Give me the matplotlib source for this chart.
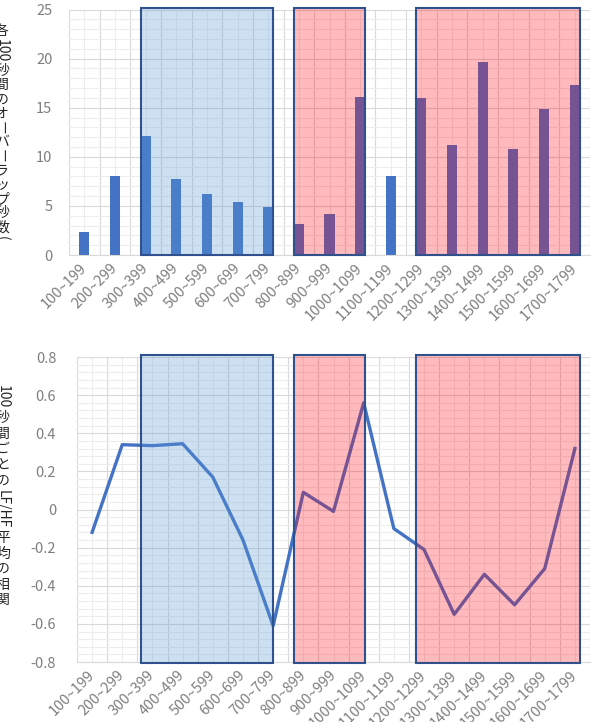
import matplotlib.pyplot as plt
import numpy as np
from matplotlib.patches import Rectangle
from matplotlib.transforms import blended_transform_factory

plt.rcParams['font.family'] = ['Noto Sans CJK JP', 'DejaVu Sans']

# データ
categories = ['100~199', '200~299', '300~399', '400~499', '500~599', '600~699',
              '700~799', '800~899', '900~999', '1000~1099', '1100~1199', '1200~1299',
              '1300~1399', '1400~1499', '1500~1599', '1600~1699', '1700~1799']
overlap_sec = [2.3, 8.0, 12.1, 7.7, 6.2, 5.4, 4.9, 3.2, 4.2, 16.1,
               8.0, 16.0, 11.2, 19.7, 10.8, 14.9, 17.3]
corr = [-0.12, 0.34, 0.335, 0.345, 0.17, -0.16, -0.61, 0.09, -0.01, 0.56,
        -0.10, -0.21, -0.55, -0.34, -0.50, -0.31, 0.32]
blue_spans = [(2, 6)]          # カテゴリ番号 (開始, 終了)
red_spans = [(7, 9), (11, 16)]

W, H = 597, 722
fig = plt.figure(figsize=(W / 100, H / 100), dpi=100)
ax1 = fig.add_axes([69 / W, 1 - 255 / H, 521 / W, 245.5 / H])
ax2 = fig.add_axes([77 / W, 1 - 662 / H, 513 / W, 305 / H])

x = np.arange(len(categories))
bar_w = 0.33
BLUE = '#4472C4'
EDGE = '#2F528F'
TICK_C = '#7F7F7F'

ax1.bar(x, overlap_sec, width=bar_w, color=BLUE, zorder=2)
ax2.plot(x, corr, color=BLUE, lw=2.4, zorder=2)


def style(ax, yticks, yminor, labels, pad_y):
    ax.set_xlim(-0.5, len(categories) - 0.5)
    ax.set_ylim(yticks[0], yticks[-1])
    ax.set_xticks(x)
    ax.set_xticks(np.arange(-0.5, len(categories)), minor=True)
    ax.set_xticklabels(categories, rotation=45, ha='right', va='center',
                       rotation_mode='anchor', fontsize=10.5, color=TICK_C)
    ax.set_yticks(yticks)
    ax.set_yticks(yminor, minor=True)
    ax.set_yticklabels(labels, fontsize=10.5, color=TICK_C)
    ax.tick_params(which='both', length=0)
    ax.tick_params(axis='x', pad=8)
    ax.tick_params(axis='y', pad=pad_y)
    ax.xaxis.grid(True, which='major', color='#EDEDED', lw=0.8)
    ax.xaxis.grid(True, which='minor', color='#D9D9D9', lw=0.8)
    ax.yaxis.grid(True, which='major', color='#D9D9D9', lw=0.8)
    ax.yaxis.grid(True, which='minor', color='#EDEDED', lw=0.8)
    ax.set_axisbelow(True)
    for s in ['top', 'right', 'left']:
        ax.spines[s].set_visible(False)
    ax.spines['bottom'].set_color('#D9D9D9')


yt1 = np.arange(0, 26, 5)
style(ax1, yt1, np.arange(0, 26, 1), [str(v) for v in yt1], 12)
yt2 = np.round(np.linspace(-0.8, 0.8, 9), 1)
style(ax2, yt2, np.round(np.linspace(-0.8, 0.8, 41), 2),
      ['0' if v == 0 else f'{v:g}' for v in yt2], 15)

# 強調枠 (上下とも上段のカテゴリ位置に合わせる)
blue_fill = (0.357, 0.608, 0.835, 0.30)
red_fill = (1.0, 0.0, 0.05, 0.27)
for ax, y0, y1 in [(ax1, 0.0, 1.008), (ax2, -0.003, 1.005)]:
    tr = blended_transform_factory(ax1.transData, ax.transAxes)
    for spans, fc in [(blue_spans, blue_fill), (red_spans, red_fill)]:
        for a, b in spans:
            ax.add_patch(Rectangle((a - bar_w / 2, y0), b - a + bar_w, y1 - y0,
                                   transform=tr, facecolor=fc, edgecolor=EDGE,
                                   lw=1.5, zorder=4, clip_on=False))


# 縦書きのラベル
def vlabel(x_px, y_px, tokens, size=10, step=1.0):
    em = size * 100 / 72
    y = y_px
    for tok in tokens:
        if tok.isascii():
            h = len(tok) * em * 0.58
            fig.text(x_px / W, 1 - (y + h / 2) / H, tok, rotation=-90,
                     ha='center', va='center', fontsize=size, color='#262626')
            y += h + 2
        else:
            rot = -90 if tok == 'ー' else 0
            fig.text(x_px / W, 1 - (y + em / 2) / H, tok, rotation=rot,
                     ha='center', va='center', fontsize=size, color='#262626')
            y += em * step


vlabel(2, 24, ['各', '100', '秒', '間', 'の', 'オ', 'ー', 'バ', 'ー', 'ラ', 'ッ',
               'プ', '秒', '数', '('], step=1.02)
vlabel(3, 385, ['100', '秒', '間', 'ご', 'と', 'の', 'LF/HF', '平', '均', 'の',
                '相', '関'], step=1.12)

fig.savefig('out.png', dpi=100)
